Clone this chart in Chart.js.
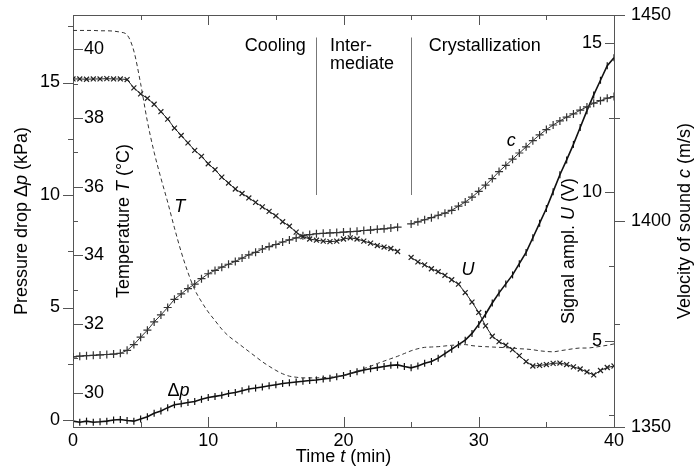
<!DOCTYPE html>
<html>
<head>
<meta charset="utf-8">
<script src="https://cdn.jsdelivr.net/npm/chart.js@4"></script>
<style>
  html, body { margin: 0; padding: 0; background: #fff; }
  canvas { display: block; }
</style>
</head>
<body>
<canvas id="chart" width="695" height="472"></canvas>
<script>
// time axis (min)
const times = [0, 0.5, 1, 1.5, 2, 2.5, 3, 3.5, 4, 4.5, 5, 5.5, 6, 6.5, 7, 7.5, 8, 8.5, 9, 9.5,
  10, 10.5, 11, 11.5, 12, 12.5, 13, 13.5, 14, 14.5, 15, 15.5, 16, 16.5, 17, 17.5, 18, 18.5, 19, 19.5,
  20, 20.5, 21, 21.5, 22, 22.5, 23, 23.5, 24, 24.5, 25, 25.5, 26, 26.5, 27, 27.5, 28, 28.5, 29, 29.5,
  30, 30.5, 31, 31.5, 32, 32.5, 33, 33.5, 34, 34.5, 35, 35.5, 36, 36.5, 37, 37.5, 38, 38.5, 39, 39.5, 40];

// temperature T (°C)
const tempValues = [40.55, 40.55, 40.55, 40.55, 40.54, 40.54, 40.53, 40.5, 40.42, 39.95,
  39.0, 37.9, 37.0, 36.25, 35.55, 34.8, 34.1, 33.5, 33.0, 32.65,
  32.35, 32.1, 31.85, 31.65, 31.5, 31.35, 31.2, 31.05, 30.9, 30.77,
  30.65, 30.55, 30.48, 30.45, 30.43, 30.43, 30.43, 30.44, 30.45, 30.47,
  30.5, 30.55, 30.62, 30.7, 30.77, 30.85, 30.92, 30.99, 31.06, 31.14,
  31.22, 31.28, 31.32, 31.33, 31.34, 31.36, 31.38, 31.39, 31.4, 31.37,
  31.35, 31.34, 31.33, 31.32, 31.31, 31.3, 31.28, 31.27, 31.25, 31.22,
  31.2, 31.19, 31.22, 31.25, 31.28, 31.3, 31.3, 31.32, 31.35, 31.38,
  31.42];

// signal amplitude U (V)
const signalValues = [13.8, 13.8, 13.79, 13.8, 13.8, 13.81, 13.8, 13.8, 13.78, 13.5,
  13.3, 13.15, 12.95, 12.7, 12.45, 12.15, 11.9, 11.65, 11.4, 11.2,
  10.95, 10.75, 10.5, 10.3, 10.1, 9.95, 9.8, 9.65, 9.5, 9.35,
  9.2, 9.0, 8.85, 8.65, 8.5, 8.42, 8.38, 8.35, 8.33, 8.35,
  8.42, 8.46, 8.42, 8.35, 8.28, 8.2, 8.15, 8.1, 8.0, null,
  7.8, 7.65, 7.55, 7.42, 7.32, 7.2, 7.05, 6.9, 6.62, 6.3,
  5.95, 5.5, 5.15, 4.97, 4.85, 4.7, 4.5, 4.3, 4.15, 4.17,
  4.2, 4.24, 4.25, 4.2, 4.12, 4.05, 3.95, 3.85, 4.0, 4.1,
  4.15];

// velocity of sound c (m/s)
const soundValues = [1367.0, 1367.2, 1367.3, 1367.4, 1367.5, 1367.6, 1367.7, 1367.9, 1368.6, 1370.0,
  1371.8, 1373.5, 1375.5, 1377.2, 1379.0, 1381.0, 1382.3, 1383.6, 1384.7, 1386.0,
  1387.2, 1388.0, 1388.8, 1389.5, 1390.2, 1391.0, 1391.8, 1392.4, 1393.2, 1393.8,
  1394.3, 1394.9, 1395.4, 1395.9, 1396.4, 1396.7, 1396.9, 1397.0, 1397.1, 1397.2,
  1397.3, 1397.4, 1397.5, 1397.7, 1397.8, 1398.0, 1398.1, 1398.3, 1398.5, null,
  1399.3, 1399.8, 1400.3, 1400.8, 1401.4, 1401.9, 1402.6, 1403.6, 1404.6, 1405.8,
  1407.2, 1408.7, 1410.3, 1412.0, 1413.5, 1415.0, 1416.5, 1418.0, 1419.5, 1420.9,
  1422.2, 1423.3, 1424.3, 1425.2, 1426.0, 1426.9, 1427.7, 1428.6, 1429.2, 1429.8,
  1430.2];

// pressure drop Δp (kPa)
const pressureValues = [-0.05, -0.1, -0.05, -0.1, -0.08, -0.05, 0.0, 0.02, -0.02, -0.05,
  0.05, 0.15, 0.3, 0.4, 0.55, 0.68, 0.72, 0.78, 0.82, 0.92,
  1.0, 1.05, 1.1, 1.18, 1.22, 1.3, 1.38, 1.42, 1.47, 1.52,
  1.57, 1.62, 1.66, 1.69, 1.72, 1.76, 1.78, 1.82, 1.86, 1.92,
  1.98, 2.07, 2.15, 2.22, 2.28, 2.33, 2.38, 2.43, 2.45, 2.38,
  2.32, 2.4, 2.52, 2.6, 2.75, 2.95, 3.15, 3.35, 3.55, 3.85,
  4.25, 4.7, 5.2, 5.65, 6.05, 6.45, 6.95, 7.45, 8.1, 8.75,
  9.4, 10.15, 10.9, 11.56, 12.25, 13.0, 13.75, 14.45, 15.1, 15.75,
  16.1];

// phase boundaries (min) and their labels
const phaseBounds = [18, 25];
const phaseLabels = [
  { text: 'Cooling', t: 12.7, p: 16.4 },
  { text: 'Inter-', t: 19.0, p: 16.4 },
  { text: 'mediate', t: 19.0, p: 15.6 },
  { text: 'Crystallization', t: 26.3, p: 16.4 },
];

const FONT = '"Liberation Sans", Arial, Helvetica, sans-serif';
const frameColor = '#555';
Chart.defaults.font.family = FONT;
Chart.defaults.font.size = 18;
Chart.defaults.color = '#000';

const toXY = (vals) => times.map((t, i) => ({ x: t, y: vals[i] }));

function richText(ctx, parts, x, y, angle, align) {
    ctx.save();
    ctx.translate(x, y);
    ctx.rotate(angle);
    ctx.textBaseline = 'middle';
    ctx.textAlign = 'left';
    let total = 0;
    parts.forEach(([s, it]) => {
        ctx.font = (it ? 'italic ' : '') + '18px ' + FONT;
        total += ctx.measureText(s).width;
    });
    let cx = align === 'left' ? 0 : -total / 2;
    parts.forEach(([s, it]) => {
        ctx.font = (it ? 'italic ' : '') + '18px ' + FONT;
        ctx.fillText(s, cx, 0);
        cx += ctx.measureText(s).width;
    });
    ctx.restore();
}

// fixed axis sizes, no extra label padding around the plot
const fixSize = (w, h) => s => {
    if (w !== null) s.width = w;
    if (h !== null) s.height = h;
    s.paddingTop = 0;
    s.paddingBottom = 0;
    s.paddingLeft = 0;
    s.paddingRight = 0;
};

// tick marks: inward / outward, major and minor
const tickMarks = {
    id: 'tickMarks',
    afterDatasetsDraw(chart) {
        const { ctx, chartArea: a, scales } = chart;
        ctx.save();
        ctx.strokeStyle = frameColor;
        ctx.lineWidth = 1;
        const line = (x1, y1, x2, y2) => {
            ctx.beginPath();
            ctx.moveTo(x1, y1);
            ctx.lineTo(x2, y2);
            ctx.stroke();
        };
        scales.x.ticks.forEach(tk => {
            const px = Math.round(scales.x.getPixelForValue(tk.value)) + 0.5;
            const len = tk.value % 10 === 0 ? 10 : 5;
            line(px, a.bottom, px, a.bottom - len);
            line(px, a.top, px, a.top + len);
        });
        scales.yP.ticks.forEach(tk => {
            const py = Math.round(scales.yP.getPixelForValue(tk.value)) + 0.5;
            line(a.left, py, a.left - (tk.value % 5 === 0 ? 10 : 5), py);
        });
        scales.yT.ticks.forEach(tk => {
            const py = Math.round(scales.yT.getPixelForValue(tk.value)) + 0.5;
            line(a.left, py, a.left + (tk.value % 2 === 0 ? 10 : 5), py);
        });
        scales.yU.ticks.forEach(tk => {
            const py = Math.round(scales.yU.getPixelForValue(tk.value)) + 0.5;
            line(a.right, py, a.right - (tk.value % 5 === 0 ? 9 : 5), py);
        });
        scales.yC.ticks.forEach(tk => {
            const py = Math.round(scales.yC.getPixelForValue(tk.value)) + 0.5;
            line(a.right, py, a.right + (tk.value % 50 === 0 ? 11 : 6), py);
        });
        ctx.restore();
    }
};

// phase lines, labels and axis titles
const annotations = {
    id: 'annotations',
    afterDraw(chart) {
        const { ctx, chartArea: a, scales } = chart;
        const X = v => scales.x.getPixelForValue(v);
        const P = v => scales.yP.getPixelForValue(v);
        ctx.save();
        ctx.strokeStyle = '#777';
        ctx.lineWidth = 1;
        phaseBounds.forEach(t => {
            const px = Math.round(X(t)) + 0.5;
            ctx.beginPath();
            ctx.moveTo(px, P(17));
            ctx.lineTo(px, P(10));
            ctx.stroke();
        });
        ctx.fillStyle = '#000';
        ctx.font = '18px ' + FONT;
        ctx.textBaseline = 'alphabetic';
        ctx.textAlign = 'left';
        phaseLabels.forEach(l => ctx.fillText(l.text, X(l.t), P(l.p)));

        // curve labels
        richText(ctx, [['T', true]], X(7.9), P(9.45), 0);
        richText(ctx, [['c', true]], X(32.4), P(12.4), 0);
        richText(ctx, [['U', true]], X(29.2), P(6.67), 0);
        richText(ctx, [['Δ', false], ['p', true]], X(7.8), P(1.3), 0);

        // axis titles
        const midY = (a.top + a.bottom) / 2;
        richText(ctx, [['Pressure drop Δ', false], ['p', true], [' (kPa)', false]], 22, midY, -Math.PI / 2);
        richText(ctx, [['Temperature ', false], ['T', true], [' (°C)', false]], 124, midY, -Math.PI / 2);
        richText(ctx, [['Signal ampl. ', false], ['U', true], [' (V)', false]], 569, midY + 30, -Math.PI / 2);
        richText(ctx, [['Velocity of sound ', false], ['c', true], [' (m/s)', false]], 685, midY, -Math.PI / 2);
        richText(ctx, [['Time ', false], ['t', true], [' (min)', false]], (a.left + a.right) / 2, 457, 0);
        ctx.restore();
    }
};

const noGrid = { display: false, drawTicks: false };

new Chart(document.getElementById('chart'), {
    type: 'line',
    data: {
        datasets: [
            {
                label: 'T',
                data: toXY(tempValues),
                yAxisID: 'yT',
                borderColor: '#333',
                borderWidth: 1,
                borderDash: [4, 3],
                pointRadius: 0,
                cubicInterpolationMode: 'monotone',
            },
            {
                label: 'U',
                data: toXY(signalValues),
                yAxisID: 'yU',
                borderColor: '#222',
                borderWidth: 1,
                pointStyle: 'crossRot',
                pointRadius: 3.5,
                pointBorderWidth: 1.2,
                pointBorderColor: '#222',
                spanGaps: false,
            },
            {
                label: 'c',
                data: toXY(soundValues),
                yAxisID: 'yC',
                borderColor: '#333',
                borderWidth: 1,
                pointStyle: 'cross',
                pointRadius: 4,
                pointBorderWidth: 1.2,
                pointBorderColor: '#333',
                spanGaps: false,
            },
            {
                label: 'Δp',
                data: toXY(pressureValues),
                yAxisID: 'yP',
                borderColor: '#111',
                borderWidth: 1.6,
                pointStyle: 'line',
                rotation: 90,
                pointRadius: 3.5,
                pointBorderWidth: 1.2,
                pointBorderColor: '#111',
            },
        ],
    },
    options: {
        responsive: false,
        animation: false,
        events: [],
        layout: { padding: { top: 15, left: 0, right: 0, bottom: 0 } },
        plugins: { legend: { display: false }, tooltip: { enabled: false } },
        scales: {
            x: {
                type: 'linear', position: 'bottom', min: 0, max: 40,
                grid: noGrid,
                border: { display: true, color: frameColor },
                ticks: { stepSize: 5, padding: 3, autoSkip: false, maxRotation: 0,
                    callback: v => (v % 10 === 0 ? v : '') },
                afterFit: fixSize(null, 45),
            },
            xTop: {
                type: 'linear', position: 'top', min: 0, max: 40,
                grid: noGrid,
                border: { display: true, color: frameColor },
                ticks: { display: false },
                afterFit: fixSize(null, 0),
            },
            yP: {
                type: 'linear', position: 'left', weight: 1, min: -0.31, max: 18.0,
                grid: noGrid,
                border: { display: true, color: frameColor },
                ticks: { stepSize: 2.5, padding: 13, autoSkip: false, includeBounds: false,
                    callback: v => (v % 5 === 0 ? v : '') },
                afterFit: fixSize(73, null),
            },
            yT: {
                type: 'linear', position: 'left', weight: 0, min: 29, max: 41,
                grid: noGrid,
                border: { display: false },
                ticks: { stepSize: 1, mirror: true, padding: 11, autoSkip: false, includeBounds: false,
                    callback: v => (v % 2 === 0 ? v : '') },
                afterFit: fixSize(0, null),
            },
            yU: {
                type: 'linear', position: 'right', weight: 0, min: 2.1, max: 15.95,
                grid: noGrid,
                border: { display: true, color: frameColor },
                ticks: { stepSize: 2.5, mirror: true, padding: -12, autoSkip: false, includeBounds: false,
                    callback: v => (v % 5 === 0 ? v : '') },
                afterFit: fixSize(0, null),
            },
            yC: {
                type: 'linear', position: 'right', weight: 1, min: 1350, max: 1450,
                grid: noGrid,
                border: { display: false },
                ticks: { stepSize: 25, padding: 17, autoSkip: false, includeBounds: false,
                    callback: v => (v % 50 === 0 ? v : '') },
                afterFit: fixSize(81, null),
            },
        },
    },
    plugins: [tickMarks, annotations],
});
</script>
</body>
</html>
